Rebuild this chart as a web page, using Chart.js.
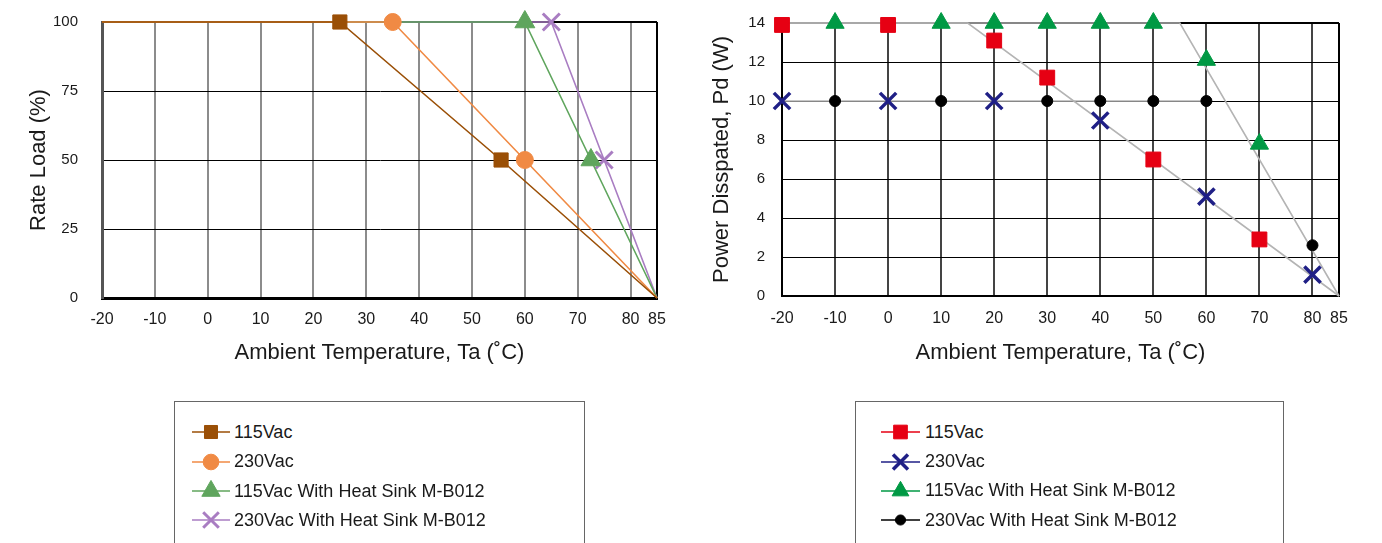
<!DOCTYPE html>
<html>
<head>
<meta charset="utf-8">
<script src="https://cdn.jsdelivr.net/npm/chart.js@4/dist/chart.umd.min.js"></script>
<style>
  html, body { margin: 0; padding: 0; background: #fff; width: 1382px; height: 543px; overflow: hidden;
    font-family: "Liberation Sans", Arial, sans-serif; }
  .chart { position: absolute; top: 0; }
  .legend { position: absolute; top: 401px; height: 200px; border: 1.5px solid #666; box-sizing: border-box; }
  .item { position: absolute; height: 24px; display: flex; align-items: center; font-size: 18px; color: #1a1a1a; white-space: nowrap; }
  .item canvas { display: block; margin-right: 4px; }
</style>
</head>
<body>
<canvas id="derate" class="chart" width="690" height="380" style="left:0"></canvas>
<canvas id="power" class="chart" width="692" height="380" style="left:690px"></canvas>
<div class="legend" style="left:174px;width:411px"></div>
<div class="legend" style="left:855px;width:429px"></div>
<div id="legendItems"></div>
<script>
// Shared axis ticks
const tempTicks = [-20, -10, 0, 10, 20, 30, 40, 50, 60, 70, 80, 85];
const loadTicks = [0, 25, 50, 75, 100];
const powerTicks = [0, 2, 4, 6, 8, 10, 12, 14];

// Rate load (%) vs ambient temperature
const load115Temp = [-20, 25, 55.5, 85];
const load115Val  = [100, 100, 50, 0];
const load230Temp = [-20, 35, 60, 85];
const load230Val  = [100, 100, 50, 0];
const load115HsTemp = [-20, 60, 72.5, 85];
const load115HsVal  = [100, 100, 50, 0];
const load230HsTemp = [-20, 65, 75, 85];
const load230HsVal  = [100, 100, 50, 0];
// which of those points carry a marker
const loadMarked = [false, true, true, false];

// Power dissipated (W) vs ambient temperature
const pd115Temp = [-20, 0, 20, 30, 50, 70];
const pd115Val  = [13.9, 13.9, 13.1, 11.2, 7.0, 2.9];
const pd230Temp = [-20, 0, 20, 40, 60, 80];
const pd230Val  = [10, 10, 10, 9.0, 5.1, 1.1];
const pd115HsTemp = [-10, 10, 20, 30, 40, 50, 60, 70];
const pd115HsVal  = [14, 14, 14, 14, 14, 14, 12.1, 7.8];
const pd230HsTemp = [-10, 10, 30, 40, 50, 60, 80];
const pd230HsVal  = [10, 10, 10, 10, 10, 10, 2.6];
// derating guide curves
const guideTemp = [-20, 15, 85];
const guideVal  = [14, 14, 0];
const guideHsTemp = [-20, 55, 85];
const guideHsVal  = [14, 14, 0];
const guide230HsTemp = [-20, 60];
const guide230HsVal  = [10, 10];

const FONT = '"Liberation Sans", Arial, sans-serif';
const TEXT = '#1a1a1a';
const pts = (xs, ys) => xs.map((x, i) => ({ x, y: ys[i] }));

function tempAxis(o) {
  return {
    type: 'linear', min: -20, max: 85,
    afterBuildTicks: s => { s.ticks = tempTicks.map(v => ({ value: v })); },
    afterFit: s => { s.height = o.height; s.paddingLeft = 0; s.paddingRight = 0; },
    ticks: { padding: o.pad, autoSkip: false, maxRotation: 0, color: TEXT,
             font: { family: FONT, size: 16 }, callback: v => String(v) },
    grid: {
      drawTicks: false,
      color: c => (c.tick && c.tick.value === 85) ? '#000' : o.gridColor,
      lineWidth: 2
    },
    border: { color: '#000', width: o.borderWidth },
    title: { display: true, text: 'Ambient Temperature, Ta (˚C)', color: TEXT,
             font: { family: FONT, size: 22 }, padding: { top: 0, bottom: 14 } }
  };
}

function valueAxis(o) {
  return {
    type: 'linear', min: o.min, max: o.max,
    afterBuildTicks: s => { s.ticks = o.ticks.map(v => ({ value: v })); },
    afterFit: s => { s.width = o.width; s.paddingTop = 0; s.paddingBottom = 0; },
    ticks: { padding: o.pad, color: TEXT, font: { family: FONT, size: 15 }, callback: v => String(v) },
    grid: {
      drawTicks: false, color: '#000',
      lineWidth: c => (c.tick && c.tick.value === o.max) ? 2 : 1
    },
    border: { color: o.borderColor, width: o.borderWidth },
    title: { display: true, text: o.title, color: TEXT,
             font: { family: FONT, size: 22 }, padding: { top: o.titlePad, bottom: 0 } }
  };
}

const baseOpts = {
  responsive: false, animation: false, devicePixelRatio: 1,
  plugins: { legend: { display: false }, tooltip: { enabled: false } }
};

// Left: derating in percent
const loadSeries = [
  { label: '115Vac', t: load115Temp, v: load115Val, color: '#9a4f06', style: 'rect', r: 10, bw: 1 },
  { label: '230Vac', t: load230Temp, v: load230Val, color: '#f08a44', style: 'circle', r: 8.5, bw: 1 },
  { label: '115Vac With Heat Sink M-B012', t: load115HsTemp, v: load115HsVal, color: '#5fa55d', style: 'triangle', r: 11.5, bw: 1 },
  { label: '230Vac With Heat Sink M-B012', t: load230HsTemp, v: load230HsVal, color: '#a97dc2', style: 'crossRot', r: 12, bw: 3 }
];

new Chart(document.getElementById('derate'), {
  type: 'scatter',
  data: {
    datasets: loadSeries.map(s => ({
      label: s.label, data: pts(s.t, s.v), showLine: true, clip: false,
      borderColor: s.color, backgroundColor: s.color, borderWidth: 1.6,
      pointStyle: s.style, pointRadius: loadMarked.map(m => m ? s.r : 0),
      pointBackgroundColor: s.color, pointBorderColor: s.color, pointBorderWidth: s.bw
    }))
  },
  options: Object.assign({}, baseOpts, {
    layout: { padding: { top: 22, right: 33, left: 0, bottom: 0 } },
    scales: {
      x: tempAxis({ height: 82, pad: 12, gridColor: '#8c8c8c', borderWidth: 3 }),
      y: valueAxis({ min: 0, max: 100, ticks: loadTicks, width: 102, pad: 24, borderColor: '#555',
                     borderWidth: 3, title: 'Rate Load (%)', titlePad: 26 })
    }
  })
});

// Right: power dissipated in watts
const powerSeries = [
  { label: '115Vac', t: pd115Temp, v: pd115Val, color: '#e60013', style: 'rect', r: 10.5, bw: 1 },
  { label: '230Vac', t: pd230Temp, v: pd230Val, color: '#1f1f86', style: 'crossRot', r: 11.5, bw: 3.5 },
  { label: '115Vac With Heat Sink M-B012', t: pd115HsTemp, v: pd115HsVal, color: '#009944', style: 'triangle', r: 10.5, bw: 1 },
  { label: '230Vac With Heat Sink M-B012', t: pd230HsTemp, v: pd230HsVal, color: '#000000', style: 'circle', r: 5.5, bw: 1 }
];
const guides = [[guideTemp, guideVal], [guideHsTemp, guideHsVal], [guide230HsTemp, guide230HsVal]];

new Chart(document.getElementById('power'), {
  type: 'scatter',
  data: {
    datasets: powerSeries.map(s => ({
      label: s.label, data: pts(s.t, s.v), showLine: false, clip: false,
      pointStyle: s.style, pointRadius: s.r,
      pointBackgroundColor: s.color, pointBorderColor: s.color, pointBorderWidth: s.bw
    })).concat(guides.map(g => ({
      data: pts(g[0], g[1]), showLine: true, clip: false,
      borderColor: '#b4b4b4', borderWidth: 1.6, pointRadius: 0
    })))
  },
  options: Object.assign({}, baseOpts, {
    layout: { padding: { top: 23, right: 43, left: 0, bottom: 0 } },
    scales: {
      x: tempAxis({ height: 84, pad: 13, gridColor: '#444', borderWidth: 2 }),
      y: valueAxis({ min: 0, max: 14, ticks: powerTicks, width: 92, pad: 17, borderColor: '#000',
                     borderWidth: 2, title: 'Power Disspated, Pd (W)', titlePad: 19 })
    }
  })
});

// Legends: a line segment with the series marker, then the label
function legendIcon(s, w) {
  const c = document.createElement('canvas');
  c.width = w; c.height = 24;
  const ctx = c.getContext('2d');
  ctx.strokeStyle = s.color; ctx.lineWidth = 1.5;
  ctx.beginPath(); ctx.moveTo(0, 12); ctx.lineTo(w, 12); ctx.stroke();
  ctx.fillStyle = s.color; ctx.strokeStyle = s.color; ctx.lineWidth = s.bw;
  Chart.helpers.drawPoint(ctx, { pointStyle: s.style, radius: s.r * 0.92, borderWidth: s.bw, rotation: 0 }, w / 2, 12);
  return c;
}
function buildLegend(series, x, textX, rows, w) {
  const host = document.getElementById('legendItems');
  series.forEach((s, i) => {
    const d = document.createElement('div');
    d.className = 'item';
    d.style.left = x + 'px';
    d.style.top = (rows[i] - 12) + 'px';
    const icon = legendIcon(s, w);
    icon.style.marginRight = (textX - x - w) + 'px';
    d.appendChild(icon);
    const span = document.createElement('span');
    span.textContent = s.label;
    d.appendChild(span);
    host.appendChild(d);
  });
}
buildLegend(loadSeries, 192, 234, [432, 461.5, 491, 520], 38);
buildLegend(powerSeries, 881, 925, [432, 461.5, 490.5, 520], 39);
</script>
</body>
</html>
